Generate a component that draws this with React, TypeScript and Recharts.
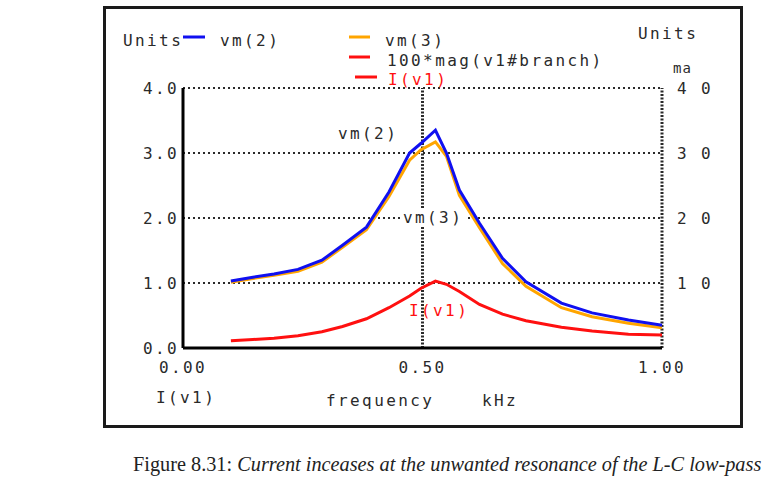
import React from 'react';
import { LineChart, Line, XAxis, YAxis, CartesianGrid, ReferenceLine, Customized } from 'recharts';

// frequency sweep points (kHz)
const freq = [0.1, 0.146, 0.19, 0.24, 0.29, 0.333, 0.383, 0.43, 0.473, 0.497, 0.527, 0.55, 0.577, 0.619, 0.667, 0.716, 0.79, 0.854, 0.93, 1.0];
const vm2 = [1.03, 1.09, 1.14, 1.21, 1.35, 1.58, 1.86, 2.4, 3.0, 3.15, 3.35, 3.0, 2.43, 1.92, 1.38, 1.02, 0.69, 0.54, 0.43, 0.35];
const vm3 = [1.01, 1.07, 1.12, 1.18, 1.32, 1.55, 1.82, 2.33, 2.89, 3.05, 3.17, 2.95, 2.35, 1.85, 1.3, 0.95, 0.62, 0.48, 0.38, 0.31];
// I(v1) in mA, right axis
const iv1 = [0.11, 0.13, 0.15, 0.19, 0.25, 0.33, 0.45, 0.62, 0.8, 0.92, 1.03, 0.98, 0.87, 0.67, 0.52, 0.42, 0.32, 0.26, 0.21, 0.2];

const xTicks = [0, 0.5, 1];
const leftTicks = [0, 1, 2, 3, 4];
const rightTicks = [1, 2, 3, 4];

const data = freq.map((f, i) => ({ f, vm2: vm2[i], vm3: vm3[i], iv1: iv1[i] }));

const BLUE = '#1010f0';
const ORANGE = '#ffa500';
const RED = '#ff1010';
const INK = '#2a2a2a';
const MONO = '"DejaVu Sans Mono", monospace';

const txt = { fontFamily: MONO, fontSize: 16, letterSpacing: 2.4, fill: INK } as const;

const Overlay = () => (
  <g>
    {/* legend */}
    <text x={123} y={46} {...txt}>Units</text>
    <line x1={183} x2={205} y1={37} y2={37} stroke={BLUE} strokeWidth={3} />
    <text x={220} y={46} {...txt}>vm(2)</text>
    <line x1={349} x2={370} y1={37} y2={37} stroke={ORANGE} strokeWidth={3} />
    <text x={385} y={46} {...txt}>vm(3)</text>
    <line x1={349} x2={370} y1={57} y2={57} stroke={RED} strokeWidth={3} />
    <text x={387} y={66} {...txt}>100*mag(v1#branch)</text>
    <line x1={355} x2={377} y1={77} y2={77} stroke={RED} strokeWidth={3} />
    <text x={388} y={85} {...txt} fill={RED}>I(v1)</text>
    <text x={638} y={39} {...txt}>Units</text>
    <text x={673} y={73} {...txt} fontSize={14} letterSpacing={1}>ma</text>

    {/* axis captions */}
    <text x={156} y={403} {...txt}>I(v1)</text>
    <text x={326} y={406} {...txt}>frequency</text>
    <text x={482} y={406} {...txt}>kHz</text>

    {/* curve annotations */}
    <text x={338} y={139} {...txt}>vm(2)</text>
    <text x={409} y={316} {...txt} fill={RED}>I(v1)</text>
  </g>
);

export default function App() {
  return (
    <div style={{ position: 'absolute', left: 0, top: 0, width: 765, height: 486, background: '#fff' }}>
      <div
        style={{
          position: 'absolute',
          left: 103,
          top: 6,
          width: 640,
          height: 422,
          border: '3px solid #1a1a1a',
          boxSizing: 'border-box',
        }}
      />
      <div style={{ position: 'absolute', left: 0, top: 0 }}>
        <LineChart width={765} height={486} data={data} margin={{ top: 88, right: 23, bottom: 108, left: 123 }}>
          <CartesianGrid yAxisId="left" vertical={false} stroke={INK} strokeWidth={2} strokeDasharray="2 3" />
          <ReferenceLine yAxisId="left" x={0.5} stroke={INK} strokeWidth={3} strokeDasharray="2 1.5" />
          <ReferenceLine yAxisId="left" x={1} stroke={INK} strokeWidth={3} strokeDasharray="2 1.5" />
          <XAxis
            dataKey="f"
            type="number"
            domain={[0, 1]}
            ticks={xTicks}
            tickFormatter={(v: number) => v.toFixed(2)}
            height={30}
            tickLine={false}
            tickSize={0}
            tickMargin={14}
            axisLine={{ stroke: '#000', strokeWidth: 3 }}
            tick={{ ...txt }}
          />
          <YAxis
            yAxisId="left"
            domain={[0, 4]}
            ticks={leftTicks}
            tickFormatter={(v: number) => v.toFixed(1)}
            width={60}
            tickLine={false}
            tickSize={0}
            tickMargin={4}
            axisLine={{ stroke: '#000', strokeWidth: 3 }}
            tick={{ ...txt }}
          />
          <YAxis
            yAxisId="right"
            orientation="right"
            domain={[0, 4]}
            ticks={rightTicks}
            tickFormatter={(v: number) => `${v} 0`}
            width={80}
            tickLine={false}
            tickSize={0}
            tickMargin={15}
            axisLine={false}
            tick={{ ...txt }}
          />
          <Line yAxisId="right" type="linear" dataKey="iv1" stroke={RED} strokeWidth={3} dot={false} isAnimationActive={false} />
          <Line yAxisId="left" type="linear" dataKey="vm3" stroke={ORANGE} strokeWidth={3} dot={false} isAnimationActive={false} />
          <Line yAxisId="left" type="linear" dataKey="vm2" stroke={BLUE} strokeWidth={3} dot={false} isAnimationActive={false} />
          <Customized component={<Overlay />} />
        </LineChart>
      </div>
      <div
        style={{
          position: 'absolute',
          left: 401,
          top: 209,
          padding: '0 2px',
          background: '#fff',
          fontFamily: MONO,
          fontSize: 16,
          letterSpacing: 2.4,
          lineHeight: '17px',
          color: INK,
        }}
      >
        vm(3)
      </div>
      <div
        style={{
          position: 'absolute',
          left: 133,
          top: 453,
          fontFamily: '"Liberation Serif", serif',
          fontSize: 20.3,
          whiteSpace: 'nowrap',
          color: '#222',
        }}
      >
        Figure 8.31: <i>Current inceases at the unwanted resonance of the L-C low-pass</i>
      </div>
    </div>
  );
}
